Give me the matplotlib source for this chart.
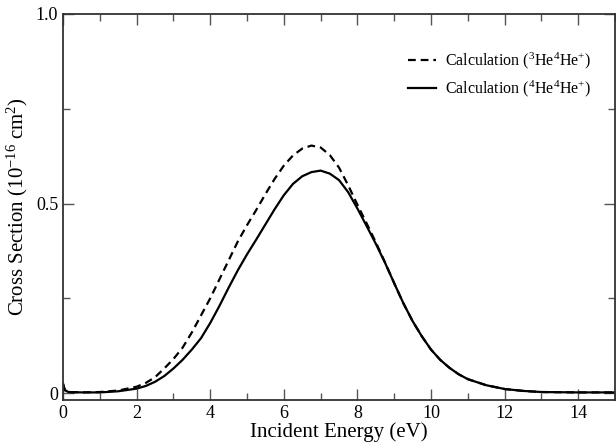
import numpy as np
import matplotlib
matplotlib.use('Agg')
import matplotlib.pyplot as plt
from matplotlib.ticker import MultipleLocator

# values
energy = [0.0, 0.05, 0.15, 0.5, 1.0, 1.5, 2.0, 2.25, 2.5, 2.75, 3.0, 3.25, 3.5, 3.75,
          4.0, 4.25, 4.5, 4.75, 5.0, 5.25, 5.5, 5.75, 6.0, 6.25, 6.5, 6.75, 7.0,
          7.25, 7.5, 7.75, 8.0, 8.25, 8.5, 8.75, 9.0, 9.25, 9.5, 9.75, 10.0,
          10.25, 10.5, 10.75, 11.0, 11.5, 12.0, 12.5, 13.0, 14.0, 15.0]
sigma_3he = [0.025, 0.008, 0.003, 0.002, 0.003, 0.007, 0.017, 0.027, 0.042, 0.065, 0.09,
             0.12, 0.16, 0.205, 0.25, 0.30, 0.35, 0.40, 0.443, 0.483, 0.525, 0.565, 0.60,
             0.627, 0.645, 0.653, 0.648, 0.628, 0.595, 0.548, 0.497, 0.448, 0.398, 0.345,
             0.29, 0.237, 0.19, 0.15, 0.115, 0.088, 0.067, 0.05, 0.037, 0.021, 0.011,
             0.006, 0.003, 0.002, 0.002]
sigma_4he = [0.025, 0.008, 0.003, 0.002, 0.002, 0.005, 0.012, 0.019, 0.03, 0.045, 0.065,
             0.088, 0.115, 0.145, 0.185, 0.23, 0.278, 0.324, 0.366, 0.405, 0.445, 0.485,
             0.522, 0.552, 0.572, 0.583, 0.587, 0.579, 0.562, 0.53, 0.487, 0.441, 0.394,
             0.344, 0.29, 0.237, 0.19, 0.15, 0.115, 0.088, 0.067, 0.05, 0.037, 0.021,
             0.011, 0.006, 0.003, 0.002, 0.002]

plt.rcParams['font.family'] = ['Liberation Serif', 'DejaVu Serif']
plt.rcParams['mathtext.fontset'] = 'custom'
plt.rcParams['mathtext.rm'] = 'Liberation Serif'
plt.rcParams['mathtext.it'] = 'Liberation Serif:italic'

fig = plt.figure(figsize=(6.16, 4.45), dpi=100)
ax = fig.add_axes([63 / 616, 1 - 400 / 445, 552 / 616, 386 / 445])

ax.plot(energy, sigma_3he, color='black', lw=1.6, ls=(0, (3.5, 2.2)),
        label=r'Calculation ($^{3}\mathrm{He}^{4}\mathrm{He}^{+}$)')
ax.plot(energy, sigma_4he, color='black', lw=1.6,
        label=r'Calculation ($^{4}\mathrm{He}^{4}\mathrm{He}^{+}$)')

ax.set_xlim(0, 15)
ax.set_ylim(-0.018, 1.0)
ax.xaxis.set_major_locator(MultipleLocator(2))
ax.xaxis.set_minor_locator(MultipleLocator(1))
ax.set_yticks([0, 0.5, 1.0])
ax.set_yticklabels(['0', '0.5', '1.0'])
ax.yaxis.set_minor_locator(MultipleLocator(0.25))
ax.tick_params(which='both', direction='in', top=True, right=True, labelsize=13,
               color='#555555', width=1)
ax.tick_params(which='major', length=8)
ax.tick_params(which='minor', length=5)
for s in ax.spines.values():
    s.set_linewidth(1.3)
    s.set_color('#333333')

ax.set_xlabel('Incident Energy (eV)', fontsize=15, labelpad=0)
ax.set_ylabel(r'Cross Section (10$^{-16}$ cm$^{2}$)', fontsize=15, labelpad=4)

ax.legend(loc='upper left', bbox_to_anchor=(0.61, 0.925), frameon=False,
          fontsize=11.5, handlelength=1.75, handletextpad=0.6, labelspacing=0.45,
          borderpad=0)

fig.savefig('out.png', dpi=100)
